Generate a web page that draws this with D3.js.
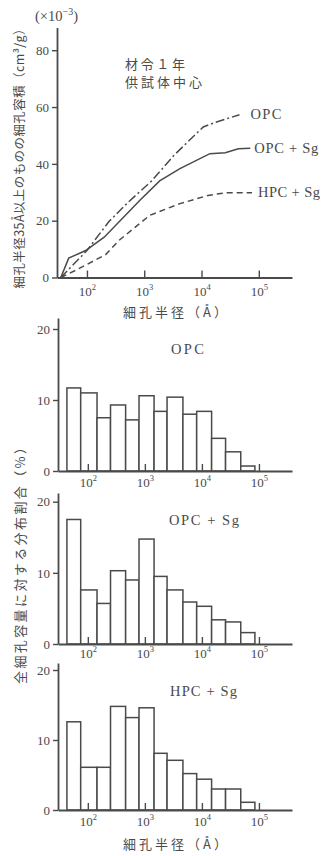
<!DOCTYPE html>
<html><head><meta charset="utf-8">
<script src="https://cdn.jsdelivr.net/npm/d3@7"></script>
<style>
body{margin:0;background:#fff;}
svg{display:block;}
text{fill:#4a4a4a;font-family:"Liberation Serif","Noto Sans CJK JP",serif;}
.cjk{font-family:"Noto Sans CJK JP","Liberation Serif",sans-serif;}
</style></head>
<body>
<script>
// ---- data ----
const radiusOPC = [35, 100, 240, 525, 1350, 3300, 10700, 17000, 46000];
const volumeOPC = [0, 9.5, 19.6, 26.5, 34, 43, 53, 54.5, 57.3];
const radiusOPCSg = [35, 48, 95, 200, 850, 1860, 4200, 14000, 26000, 44000, 71000];
const volumeOPCSg = [0, 6.8, 9.5, 14.2, 27.3, 34.0, 38.3, 43.6, 43.9, 45.3, 45.5];
const radiusHPCSg = [35, 63, 210, 370, 1250, 4200, 13000, 26000, 76000];
const volumeHPCSg = [0, 2.5, 8, 13.2, 21.9, 26, 28.9, 29.8, 29.8];
const seriesNames = ["OPC", "OPC + Sg", "HPC + Sg"];

const binEdges = [43, 75, 145, 250, 460, 790, 1450, 2450, 4650, 8100, 14800, 26000, 48000, 85000];
const pctOPC   = [11.7, 11.0, 7.5, 9.3, 7.2, 10.6, 8.4, 10.4, 8.0, 8.4, 4.6, 2.7, 0.7];
const pctOPCSg = [17.5, 7.6, 5.7, 10.3, 9.0, 14.75, 9.5, 7.6, 5.9, 5.3, 3.4, 3.1, 1.6];
const pctHPCSg = [12.6, 6.1, 6.1, 14.8, 13.2, 14.6, 8.1, 7.1, 5.2, 4.4, 3.0, 3.0, 1.1];

const xTickValues = [100, 1000, 10000, 100000];
const xTickExponents = ["2", "3", "4", "5"];
const topYTicks = [0, 20, 40, 60, 80];
const histYTicks = [0, 10, 20];

const topYTitle = "細孔半径35Å以上のものの細孔容積（cm³/g）";
const histYTitle = "全細孔容量に対する分布割合（%）";
const xTitle = "細孔半径（Å）";
const note1 = "材令１年";
const note2 = "供試体中心";

// ---- drawing ----
const W = 326, H = 856;
const ink = "#4a4a4a";
const svg = d3.select("body").append("svg").attr("width", W).attr("height", H);

function styleAxis(g) {
  g.select(".domain").attr("stroke", ink).attr("stroke-width", 1.8);
  g.selectAll(".tick line").attr("stroke", ink).attr("stroke-width", 1.4);
}

function drawXAxis(x, yBase, labelOffset) {
  const g = svg.append("g").attr("transform", `translate(0,${yBase})`)
    .call(d3.axisBottom(x).tickValues(xTickValues).tickSizeInner(-7).tickSizeOuter(0).tickFormat(""));
  styleAxis(g);
  g.selectAll(".tick").each(function(d, i) {
    const t = d3.select(this).append("text")
      .attr("y", labelOffset).attr("text-anchor", "middle")
      .attr("font-size", 13).attr("dominant-baseline", "middle").attr("stroke", "none");
    t.append("tspan").text("10");
    t.append("tspan").attr("dy", -5).attr("font-size", 8.5).text(xTickExponents[i]);
  });
}

function drawYAxis(y, xPos, ticks) {
  const g = svg.append("g").attr("transform", `translate(${xPos},0)`)
    .call(d3.axisLeft(y).tickValues(ticks).tickSizeInner(5).tickSizeOuter(0).tickPadding(3));
  styleAxis(g);
  g.selectAll(".tick text").attr("font-size", 13).attr("fill", ink)
    .style("font-family", "Liberation Serif, serif");
}

// ---- top chart ----
const xTop = d3.scaleLog().domain([30, 380000]).range([57, 292]);
const yTop = d3.scaleLinear().domain([0, 88]).range([277.5, 27.5]);

const line = d3.line().x(d => xTop(d[0])).y(d => yTop(d[1]));
const seriesData = [
  {r: radiusOPC, v: volumeOPC, dash: "9,3,2,3", dx: 11, w: 31},
  {r: radiusOPCSg, v: volumeOPCSg, dash: null, dx: 4, w: 64},
  {r: radiusHPCSg, v: volumeHPCSg, dash: "6,4", dx: 6, w: 62}
];
seriesData.forEach((s, k) => {
  svg.append("path").datum(s.r.map((r, i) => [r, s.v[i]]))
    .attr("d", line).attr("fill", "none").attr("stroke", ink)
    .attr("stroke-width", 1.5).attr("stroke-dasharray", s.dash);
  const n = s.r.length - 1;
  svg.append("text").attr("x", xTop(s.r[n]) + s.dx).attr("y", yTop(s.v[n]) + 1)
    .attr("dominant-baseline", "middle").attr("font-size", 14.5)
    .attr("textLength", s.w).attr("lengthAdjust", "spacing").text(seriesNames[k]);
});

drawXAxis(xTop, 277.5, 15);
drawYAxis(yTop, 57, topYTicks);

// notes
svg.append("text").attr("class", "cjk").attr("x", 125).attr("y", 65)
  .attr("dominant-baseline", "middle").attr("font-size", 13)
  .attr("textLength", 60).attr("lengthAdjust", "spacing").text(note1);
svg.append("text").attr("class", "cjk").attr("x", 125).attr("y", 83)
  .attr("dominant-baseline", "middle").attr("font-size", 13)
  .attr("textLength", 77).attr("lengthAdjust", "spacing").text(note2);

// multiplier
const mult = svg.append("text").attr("x", 35).attr("y", 21).attr("font-size", 14.5);
mult.append("tspan").text("(×10");
mult.append("tspan").attr("dy", -6).attr("font-size", 10).text("−3");
mult.append("tspan").attr("dy", 6).text(")");

// top y title
svg.append("text").attr("class", "cjk")
  .attr("transform", `translate(21,${(22 + 289) / 2}) rotate(-90)`)
  .attr("text-anchor", "middle").attr("dominant-baseline", "middle")
  .attr("font-size", 12.5).attr("textLength", 266).attr("lengthAdjust", "spacing")
  .text(topYTitle);

// top x title
svg.append("text").attr("class", "cjk").attr("x", 123).attr("y", 313)
  .attr("dominant-baseline", "middle").attr("font-size", 13)
  .attr("textLength", 104).attr("lengthAdjust", "spacing").text(xTitle);

// ---- histograms ----
const xHist = d3.scaleLog().domain([30, 380000]).range([58, 292]);
const hists = [
  {vals: pctOPC, name: seriesNames[0], base: 471, top20: 329, axisTop: 318, label: [171, 351], labW: 33, tick: 13},
  {vals: pctOPCSg, name: seriesNames[1], base: 644, top20: 501.7, axisTop: 493, label: [169, 522], labW: 70, tick: 11},
  {vals: pctHPCSg, name: seriesNames[2], base: 810, top20: 670, axisTop: 663, label: [170, 693], labW: 67, tick: 13}
];
hists.forEach(h => {
  const per = (h.base - h.top20) / 20;
  const yH = d3.scaleLinear().domain([0, (h.base - h.axisTop) / per]).range([h.base, h.axisTop]);
  svg.append("g").selectAll("rect").data(h.vals).join("rect")
    .attr("x", (d, i) => xHist(binEdges[i]))
    .attr("width", (d, i) => xHist(binEdges[i + 1]) - xHist(binEdges[i]))
    .attr("y", d => yH(d))
    .attr("height", d => yH(0) - yH(d))
    .attr("fill", "#fff").attr("stroke", ink).attr("stroke-width", 1.5);
  drawXAxis(xHist, h.base, h.tick);
  drawYAxis(yH, 58, histYTicks);
  svg.append("text").attr("x", h.label[0]).attr("y", h.label[1])
    .attr("dominant-baseline", "middle").attr("font-size", 14.5)
    .attr("textLength", h.labW).attr("lengthAdjust", "spacing").text(h.name);
});

// hist y title
svg.append("text").attr("class", "cjk")
  .attr("transform", `translate(21,${(441 + 684) / 2}) rotate(-90)`)
  .attr("text-anchor", "middle").attr("dominant-baseline", "middle")
  .attr("font-size", 13).attr("textLength", 243).attr("lengthAdjust", "spacing")
  .text(histYTitle);

// bottom x title
svg.append("text").attr("class", "cjk").attr("x", 123).attr("y", 845)
  .attr("dominant-baseline", "middle").attr("font-size", 13)
  .attr("textLength", 104).attr("lengthAdjust", "spacing").text(xTitle);
</script>
</body></html>
